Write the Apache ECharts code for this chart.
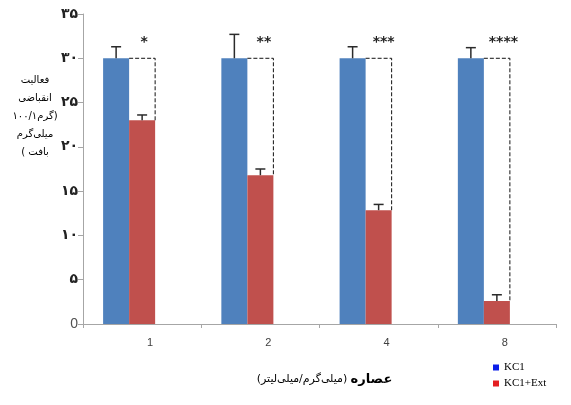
<!DOCTYPE html>
<html><head><meta charset="utf-8">
<script src="https://cdn.jsdelivr.net/npm/echarts@6/dist/echarts.min.js"></script>
<style>html,body{margin:0;padding:0;background:#fff}#c{width:571px;height:405px}</style>
</head><body><div id="c"></div>
<script>
const categories = ['1', '2', '4', '8'];
const kclValues = [30, 30, 30, 30];
const kclErrors = [1.3, 2.7, 1.3, 1.2];
const extValues = [23.0, 16.8, 12.85, 2.6];
const extErrors = [0.6, 0.7, 0.65, 0.7];
const starLabels = ['*', '**', '***', '****'];
const yTickLabels = {0: '0', 5: '۵', 10: '۱۰', 15: '۱۵', 20: '۲۰', 25: '۲۵', 30: '۳۰', 35: '۳۵'};
const seriesNames = ['KC1', 'KC1+Ext'];
const yNameLines = ['فعالیت', 'انقباضی', '۱۰۰/گرم۱)', 'میلی‌گرم', '( بافت'];

const BAR_FRAC = 0.22;
const annotData = categories.map((c, i) => [i, kclValues[i], kclErrors[i], extValues[i], extErrors[i]]);

const chart = echarts.init(document.getElementById('c'), null, {renderer: 'canvas'});
chart.setOption({
  animation: false,
  backgroundColor: '#ffffff',
  grid: {left: 83, right: 15, top: 14, bottom: 81},
  legend: {
    orient: 'vertical', left: 488, top: 357, itemWidth: 6, itemHeight: 6, itemGap: 5,
    icon: 'rect',
    textStyle: {fontFamily: 'Liberation Serif', fontSize: 11, color: '#000'},
    data: [
      {name: seriesNames[0], itemStyle: {color: '#0b1ee8'}},
      {name: seriesNames[1], itemStyle: {color: '#e41e22'}}
    ]
  },
  xAxis: {
    type: 'category', data: categories,
    axisLine: {lineStyle: {color: '#a6a6a6', width: 1}},
    axisTick: {show: true, length: 4, lineStyle: {color: '#a6a6a6'}},
    axisLabel: {color: '#404040', fontSize: 11, fontFamily: 'Liberation Sans', margin: 13, padding: [0, 0, 0, 16]},
    name: '{n|(میلی‌گرم/میلی‌لیتر)} {b|عصاره}',
    nameLocation: 'middle', nameGap: 49,
    nameTextStyle: {
      padding: [0, 0, 0, 10],
      rich: {
        n: {fontFamily: 'DejaVu Sans', fontSize: 11, color: '#000'},
        b: {fontFamily: 'DejaVu Sans', fontSize: 13, fontWeight: 'bold', color: '#000'}
      }
    }
  },
  yAxis: {
    type: 'value', min: 0, max: 35, interval: 5,
    axisLine: {show: true, lineStyle: {color: '#a6a6a6', width: 1}},
    axisTick: {show: true, length: 5, lineStyle: {color: '#a6a6a6'}},
    splitLine: {show: false},
    axisLabel: {
      color: '#222', fontSize: 14, fontWeight: 'bold', fontFamily: 'DejaVu Sans', margin: 5,
      formatter: v => (v === 0 ? '{z|' + yTickLabels[0] + '}' : (yTickLabels[v] !== undefined ? yTickLabels[v] : String(v))),
      rich: {z: {fontFamily: 'Liberation Sans', fontSize: 14, fontWeight: 'normal', color: '#505050'}}
    }
  },
  graphic: yNameLines.map((t, k) => ({
    type: 'text', x: 35, y: 80 + k * 18,
    style: {
      text: t, fontFamily: 'DejaVu Sans', fontSize: 10, fill: '#000',
      align: 'center', verticalAlign: 'middle'
    }
  })),
  series: [
    {name: seriesNames[0], type: 'bar', data: kclValues, barWidth: (BAR_FRAC * 100) + '%', barGap: '0%',
     itemStyle: {color: '#4f81bd'}},
    {name: seriesNames[1], type: 'bar', data: extValues, barWidth: (BAR_FRAC * 100) + '%', barGap: '0%',
     itemStyle: {color: '#c0504d'}},
    {name: '_spacer', type: 'bar', data: categories.map(() => null), barWidth: (BAR_FRAC * 100) + '%', barGap: '0%'},
    {
      name: '_annot', type: 'custom', z: 10, data: annotData,
      renderItem: function (params, api) {
        const i = api.value(0);
        const b = api.value(1), be = api.value(2), r = api.value(3), re = api.value(4);
        const band = api.size([1, 0])[0];
        const w = band * BAR_FRAC;
        const cx = api.coord([i, 0])[0];
        const bx = cx - w, rx = cx;
        const yB = api.coord([i, b])[1], yBe = api.coord([i, b + be])[1];
        const yR = api.coord([i, r])[1], yRe = api.coord([i, r + re])[1];
        const err = '#2b2b2b';
        const cap = 5;
        const ls = {stroke: err, lineWidth: 1.5};
        return {
          type: 'group',
          children: [
            {type: 'line', shape: {x1: bx, y1: yB, x2: bx, y2: yBe}, style: ls},
            {type: 'line', shape: {x1: bx - cap, y1: yBe, x2: bx + cap, y2: yBe}, style: ls},
            {type: 'line', shape: {x1: rx, y1: yR, x2: rx, y2: yRe}, style: ls},
            {type: 'line', shape: {x1: rx - cap, y1: yRe, x2: rx + cap, y2: yRe}, style: ls},
            {type: 'polyline', shape: {points: [[cx - w / 2, yB], [cx + w / 2, yB], [cx + w / 2, yR]]},
             style: {stroke: '#111', lineWidth: 1, lineDash: [4, 2], fill: null}},
            {type: 'text', style: {
              x: rx + 2 + (starLabels[i].length - 1) * 1.5, y: api.coord([i, 31.8])[1], text: starLabels[i],
              fontFamily: 'DejaVu Sans', fontSize: 14, fontWeight: 'bold', fill: '#222',
              textAlign: 'center', textVerticalAlign: 'middle'
            }}
          ]
        };
      }
    }
  ]
});
</script></body></html>
